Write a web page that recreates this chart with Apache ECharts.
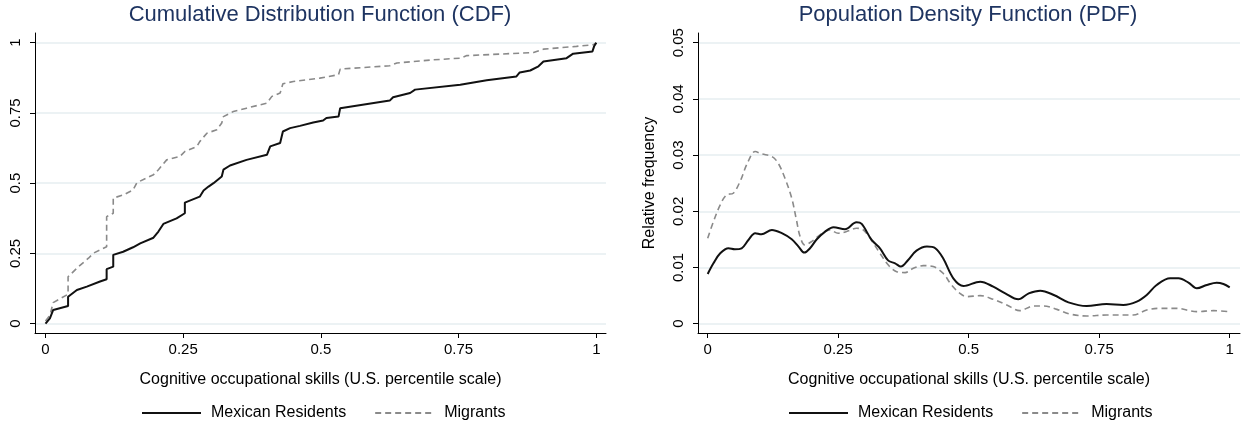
<!DOCTYPE html>
<html>
<head>
<meta charset="utf-8">
<script src="https://cdn.jsdelivr.net/npm/echarts@6/dist/echarts.min.js"></script>
<style>html,body{margin:0;padding:0;background:#fff}#c{width:1243px;height:425px}</style>
</head>
<body>
<div id="c"></div>
<script>
// ---- data ----
const cdfTicks = [0, 0.25, 0.5, 0.75, 1];
const pdfYTicks = [0, 0.01, 0.02, 0.03, 0.04, 0.05];
const seriesNames = ['Mexican Residents', 'Migrants'];
const titleCDF = 'Cumulative Distribution Function (CDF)';
const titlePDF = 'Population Density Function (PDF)';
const xTitle = 'Cognitive occupational skills (U.S. percentile scale)';
const yTitlePDF = 'Relative frequency';

const cdfResX = [0,0.008,0.014,0.041,0.041,0.057,0.075,0.099,0.111,0.111,0.123,0.123,0.141,0.159,0.172,0.196,0.205,0.214,0.238,0.253,0.253,0.280,0.287,0.296,0.305,0.320,0.323,0.335,0.365,0.402,0.408,0.426,0.431,0.444,0.462,0.486,0.504,0.510,0.532,0.535,0.625,0.631,0.662,0.671,0.753,0.801,0.855,0.861,0.880,0.895,0.904,0.946,0.958,0.993,0.996,1.0];
const cdfResY = [0,0.019,0.049,0.063,0.096,0.120,0.132,0.150,0.158,0.194,0.203,0.245,0.256,0.272,0.286,0.306,0.328,0.355,0.375,0.393,0.431,0.452,0.474,0.488,0.500,0.524,0.548,0.563,0.583,0.601,0.631,0.643,0.684,0.696,0.704,0.716,0.723,0.732,0.737,0.767,0.794,0.806,0.821,0.833,0.850,0.866,0.880,0.894,0.901,0.916,0.933,0.945,0.961,0.969,0.987,1.0];

const cdfMigX = [0,0.008,0.014,0.041,0.041,0.060,0.078,0.087,0.111,0.111,0.123,0.123,0.141,0.159,0.166,0.196,0.205,0.220,0.244,0.253,0.275,0.280,0.293,0.311,0.320,0.323,0.341,0.365,0.402,0.411,0.426,0.431,0.450,0.498,0.532,0.535,0.625,0.638,0.704,0.753,0.765,0.886,0.904,0.964,0.995,1.0];
const cdfMigY = [0.01,0.03,0.075,0.105,0.167,0.203,0.233,0.251,0.274,0.381,0.393,0.447,0.458,0.476,0.502,0.530,0.548,0.583,0.595,0.613,0.631,0.648,0.678,0.690,0.714,0.737,0.755,0.767,0.785,0.809,0.821,0.854,0.862,0.874,0.886,0.906,0.918,0.928,0.939,0.945,0.954,0.965,0.977,0.987,0.993,1.0];

const pdfResX = [0,0.011,0.024,0.040,0.052,0.065,0.078,0.091,0.103,0.123,0.142,0.161,0.174,0.185,0.196,0.209,0.225,0.241,0.263,0.285,0.295,0.314,0.330,0.346,0.359,0.370,0.384,0.400,0.420,0.436,0.451,0.4705,0.490,0.522,0.547,0.570,0.595,0.615,0.637,0.663,0.691,0.726,0.764,0.796,0.822,0.841,0.860,0.886,0.902,0.921,0.937,0.956,0.975,0.988,1.0];
const pdfResY = [0.00885,0.01075,0.01253,0.01342,0.01324,0.01342,0.0149,0.0161,0.0159,0.01669,0.0161,0.01502,0.01372,0.01265,0.01342,0.01502,0.01639,0.01716,0.01681,0.01805,0.01776,0.0149,0.01342,0.01122,0.01075,0.01016,0.01134,0.0130,0.01372,0.01342,0.01164,0.00808,0.00671,0.00748,0.00659,0.0054,0.00433,0.0054,0.00588,0.00511,0.0038,0.00315,0.0035,0.00333,0.00392,0.00511,0.00689,0.00808,0.00808,0.0073,0.0063,0.00689,0.0073,0.00707,0.00647];

const pdfMigX = [0,0.011,0.024,0.036,0.049,0.062,0.076,0.091,0.103,0.123,0.135,0.148,0.161,0.170,0.177,0.186,0.199,0.215,0.234,0.250,0.266,0.285,0.298,0.314,0.330,0.346,0.362,0.378,0.394,0.413,0.432,0.451,0.467,0.483,0.496,0.522,0.547,0.573,0.598,0.624,0.643,0.669,0.694,0.726,0.764,0.815,0.841,0.866,0.898,0.937,0.969,1.0];
const pdfMigY = [0.0152,0.01817,0.02114,0.02292,0.02322,0.0253,0.02856,0.03064,0.03023,0.02975,0.02856,0.02589,0.02233,0.01847,0.0155,0.01401,0.01461,0.0158,0.01669,0.0161,0.01639,0.01698,0.01669,0.01479,0.01253,0.01045,0.00926,0.00909,0.00986,0.01033,0.01016,0.00897,0.00689,0.0054,0.00481,0.00499,0.00433,0.00333,0.00232,0.00315,0.00315,0.00255,0.00172,0.00137,0.00154,0.00154,0.00243,0.00273,0.00273,0.00214,0.00232,0.00214];

function pairs(xs, ys) { return xs.map((x, i) => [x, ys[i]]); }

// ---- styles ----
const FONT = 'Liberation Sans, Arial, sans-serif';
const TITLE_COLOR = '#1e3461';
const GRID_COLOR = '#e6eef0';
const resStyle = { color: '#111111', width: 2, type: 'solid' };
const migStyle = { color: '#8a8a8a', width: 1.6, type: [6, 4] };

function xAxisCfg(gridIndex, min, max) {
  return {
    type: 'value', gridIndex, min, max,
    name: xTitle, nameLocation: 'middle', nameGap: 39,
    nameTextStyle: { fontFamily: FONT, fontSize: 16, color: '#000' },
    axisLine: { show: true, onZero: false, lineStyle: { color: '#000', width: 1 } },
    axisTick: { show: true, length: 5, lineStyle: { color: '#000', width: 1 }, customValues: cdfTicks },
    axisLabel: { show: true, margin: 9, fontFamily: FONT, fontSize: 15, color: '#000', customValues: cdfTicks },
    splitLine: { show: false }
  };
}
function yAxisCfg(gridIndex, min, max, ticks, name) {
  return {
    type: 'value', gridIndex, min, max,
    name: name || '', nameLocation: 'middle', nameGap: 40, nameRotate: 90,
    nameTextStyle: { fontFamily: FONT, fontSize: 16, color: '#000' },
    axisLine: { show: true, onZero: false, lineStyle: { color: '#000', width: 1 } },
    axisTick: { show: true, length: 5, lineStyle: { color: '#000', width: 1 }, customValues: ticks },
    axisLabel: { show: true, rotate: 90, margin: 12, fontFamily: FONT, fontSize: 15, color: '#000', customValues: ticks },
    splitLine: { show: true, lineStyle: { color: GRID_COLOR, width: 1.5 } }
  };
}
function legendCfg(left) {
  return {
    left, top: 405, padding: 0, itemWidth: 59, itemHeight: 14, itemGap: 28,
    selectedMode: false,
    itemStyle: { opacity: 0 },
    data: seriesNames,
    textStyle: { fontFamily: FONT, fontSize: 16, color: '#000', padding: [0, 0, 0, 5] }
  };
}

const chart = echarts.init(document.getElementById('c'), null, { renderer: 'canvas' });
chart.setOption({
  backgroundColor: '#fff',
  animation: false,
  title: [
    { text: titleCDF, left: 320, top: 4, padding: 0, textAlign: 'center',
      textStyle: { fontFamily: FONT, fontSize: 22, fontWeight: 'normal', color: TITLE_COLOR } },
    { text: titlePDF, left: 968, top: 4, padding: 0, textAlign: 'center',
      textStyle: { fontFamily: FONT, fontSize: 22, fontWeight: 'normal', color: TITLE_COLOR } }
  ],
  legend: [legendCfg(141), legendCfg(788)],
  grid: [
    { left: 35, top: 33, width: 571, height: 300, outerBoundsMode: 'none', containLabel: false },
    { left: 698, top: 33, width: 542, height: 300, outerBoundsMode: 'none', containLabel: false }
  ],
  xAxis: [
    xAxisCfg(0, -0.01906, 1.0176),
    xAxisCfg(1, -0.01858, 1.0197)
  ],
  yAxis: [
    yAxisCfg(0, -0.0331, 1.0345, cdfTicks, ''),
    yAxisCfg(1, -0.001655, 0.051725, pdfYTicks, yTitlePDF)
  ],
  series: [
    { name: seriesNames[0], type: 'line', xAxisIndex: 0, yAxisIndex: 0, symbol: 'none',
      lineStyle: resStyle, itemStyle: { color: resStyle.color, opacity: 0 }, data: pairs(cdfResX, cdfResY), z: 3 },
    { name: seriesNames[1], type: 'line', xAxisIndex: 0, yAxisIndex: 0, symbol: 'none',
      lineStyle: migStyle, itemStyle: { color: migStyle.color, opacity: 0 }, data: pairs(cdfMigX, cdfMigY), z: 2 },
    { name: seriesNames[0], type: 'line', xAxisIndex: 1, yAxisIndex: 1, symbol: 'none', smooth: 0.35,
      lineStyle: resStyle, itemStyle: { color: resStyle.color, opacity: 0 }, data: pairs(pdfResX, pdfResY), z: 3 },
    { name: seriesNames[1], type: 'line', xAxisIndex: 1, yAxisIndex: 1, symbol: 'none', smooth: 0.35,
      lineStyle: migStyle, itemStyle: { color: migStyle.color, opacity: 0 }, data: pairs(pdfMigX, pdfMigY), z: 2 }
  ]
});
</script>
</body>
</html>
